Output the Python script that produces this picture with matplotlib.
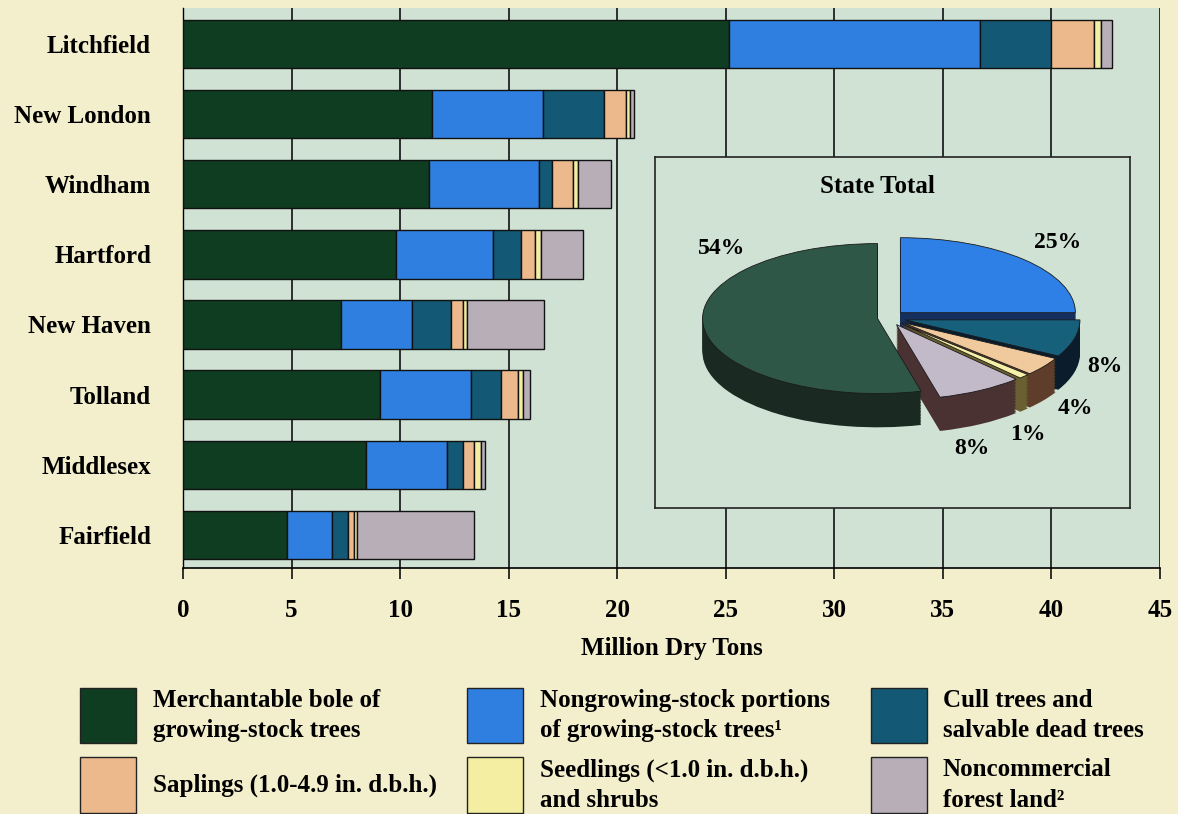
import numpy as np
import matplotlib
matplotlib.use('Agg')
import matplotlib.pyplot as plt
from matplotlib.patches import Rectangle

plt.rcParams['font.family'] = ['Liberation Serif', 'DejaVu Serif']
plt.rcParams['font.weight'] = 'bold'

# biomass by county, million dry tons
counties = ['Litchfield', 'New London', 'Windham', 'Hartford',
            'New Haven', 'Tolland', 'Middlesex', 'Fairfield']
merch = [25.14, 11.45, 11.33, 9.80, 7.30, 9.07, 8.43, 4.79]
nongrow = [11.55, 5.15, 5.07, 4.46, 3.23, 4.18, 3.71, 2.06]
cull = [3.30, 2.80, 0.60, 1.29, 1.81, 1.38, 0.74, 0.73]
saplings = [1.95, 1.00, 0.97, 0.65, 0.56, 0.81, 0.53, 0.29]
seedlings = [0.36, 0.20, 0.23, 0.28, 0.16, 0.23, 0.31, 0.13]
noncomm = [0.50, 0.15, 1.50, 1.95, 3.58, 0.31, 0.18, 5.41]

# state total shares, percent
state_pct = [54, 25, 8, 4, 1, 8]

legend_labels = ['Merchantable bole of\ngrowing-stock trees',
                 'Nongrowing-stock portions\nof growing-stock trees\u00b9',
                 'Cull trees and\nsalvable dead trees',
                 'Saplings (1.0-4.9 in. d.b.h.)',
                 'Seedlings (<1.0 in. d.b.h.)\nand shrubs',
                 'Noncommercial\nforest land\u00b2']

colors = ['#0f3d21', '#2f7fe0', '#135874', '#ecb98c', '#f4eea2', '#b7aeb8']
pie_top = ['#2f5747', '#2f80e6', '#17607c', '#f0c99c', '#f6f0a8', '#c2bac9']
pie_side = ['#1a2a22', '#15305c', '#0b1c2c', '#5e3e2a', '#6a5f30', '#4a3232']

fig_bg = '#f3eecb'
plot_bg = '#d0e2d4'

fig = plt.figure(figsize=(11.78, 8.14), dpi=100, facecolor=fig_bg)
W, H = 1178, 814

def px_axes(x0, y0, x1, y1):
    return fig.add_axes([x0 / W, 1 - y1 / H, (x1 - x0) / W, (y1 - y0) / H])

ax = px_axes(183, 8, 1160, 568)
ax.set_facecolor(plot_bg)

series = [merch, nongrow, cull, saplings, seedlings, noncomm]
ypos = np.arange(len(counties))
left = np.zeros(len(counties))
for vals, c in zip(series, colors):
    ax.barh(ypos, vals, left=left, height=0.69, color=c,
            edgecolor='#111111', linewidth=1.0, zorder=3)
    left += np.array(vals)

ax.set_xlim(0, 45)
ax.set_ylim(7.47, -0.51)
ax.set_xticks(np.arange(0, 46, 5))
ax.set_yticks(ypos)
ax.set_yticklabels(counties, fontsize=18)
ax.tick_params(axis='y', length=0, pad=23)
ax.tick_params(axis='x', length=8, width=1.2, pad=14, labelsize=18,
               direction='out', color='#111111')
for lab in ax.get_xticklabels() + ax.get_yticklabels():
    lab.set_fontweight('bold')
ax.grid(axis='x', color='#111111', linewidth=1.2, zorder=0)
ax.set_axisbelow(True)
for s in ['top', 'right']:
    ax.spines[s].set_visible(False)
ax.spines['bottom'].set_linewidth(1.2)
ax.spines['left'].set_linewidth(1.0)
ax.set_xlabel('Million Dry Tons', fontsize=18, fontweight='bold', labelpad=11)

# inset pie: State Total
pax = px_axes(655, 157, 1130, 508)
pax.set_facecolor(plot_bg)
for s in pax.spines.values():
    s.set_color('#222222')
    s.set_linewidth(1.2)

# clockwise from the top: blue, cull, saplings, seedlings, noncomm, merch
order = [1, 2, 3, 4, 5, 0]
vals = [state_pct[i] for i in order]
explode = [0.1, 0.1, 0.1, 0.1, 0.1, 0.06]
depth = 0.45
for dy in np.linspace(-depth, 0, 24)[:-1]:
    pax.pie(vals, colors=[pie_side[i] for i in order], startangle=90,
            counterclock=False, explode=explode, center=(0, dy), frame=True,
            wedgeprops=dict(linewidth=0))
pax.pie(vals, colors=[pie_top[i] for i in order], startangle=90,
        counterclock=False, explode=explode, center=(0, 0), frame=True,
        wedgeprops=dict(linewidth=0.6, edgecolor='#1a1a1a'))
pax.set_aspect('auto')
rx, ry = 175.0, 75.0
cx, cy = 888 - 655, 318 - 157
pax.set_xlim(-cx / rx, (475 - cx) / rx)
pax.set_ylim(-(351 - cy) / ry, cy / ry)
pax.set_xticks([])
pax.set_yticks([])

pax.text(0.469, 0.917, 'State Total', transform=pax.transAxes,
         ha='center', va='center', fontsize=18, fontweight='bold')
label_px = [(722, 248), (1058, 242), (1105, 367), (1075, 408),
            (1028, 434), (972, 449)]
for pct, (lx, ly) in zip(state_pct, label_px):
    pax.text((lx - 888) / rx, (318 - ly) / ry, f'{pct}%', ha='center',
             va='center', fontsize=17, fontweight='bold')

# legend
patch_x = [80, 467, 871]
text_x = [153, 540, 943]
row_y = [(688, 743), (757, 813)]
for k, (lab, c) in enumerate(zip(legend_labels, colors)):
    r, col = divmod(k, 3)
    y0, y1 = row_y[r]
    fig.patches.append(Rectangle((patch_x[col] / W, 1 - y1 / H), 56 / W,
                                 (y1 - y0) / H, transform=fig.transFigure,
                                 facecolor=c, edgecolor='#222222',
                                 linewidth=1.0))
    fig.text(text_x[col] / W, 1 - (y0 + y1) / 2 / H, lab, ha='left',
             va='center', fontsize=18, fontweight='bold', linespacing=1.4)

fig.savefig('out.png', dpi=100, facecolor=fig_bg)
